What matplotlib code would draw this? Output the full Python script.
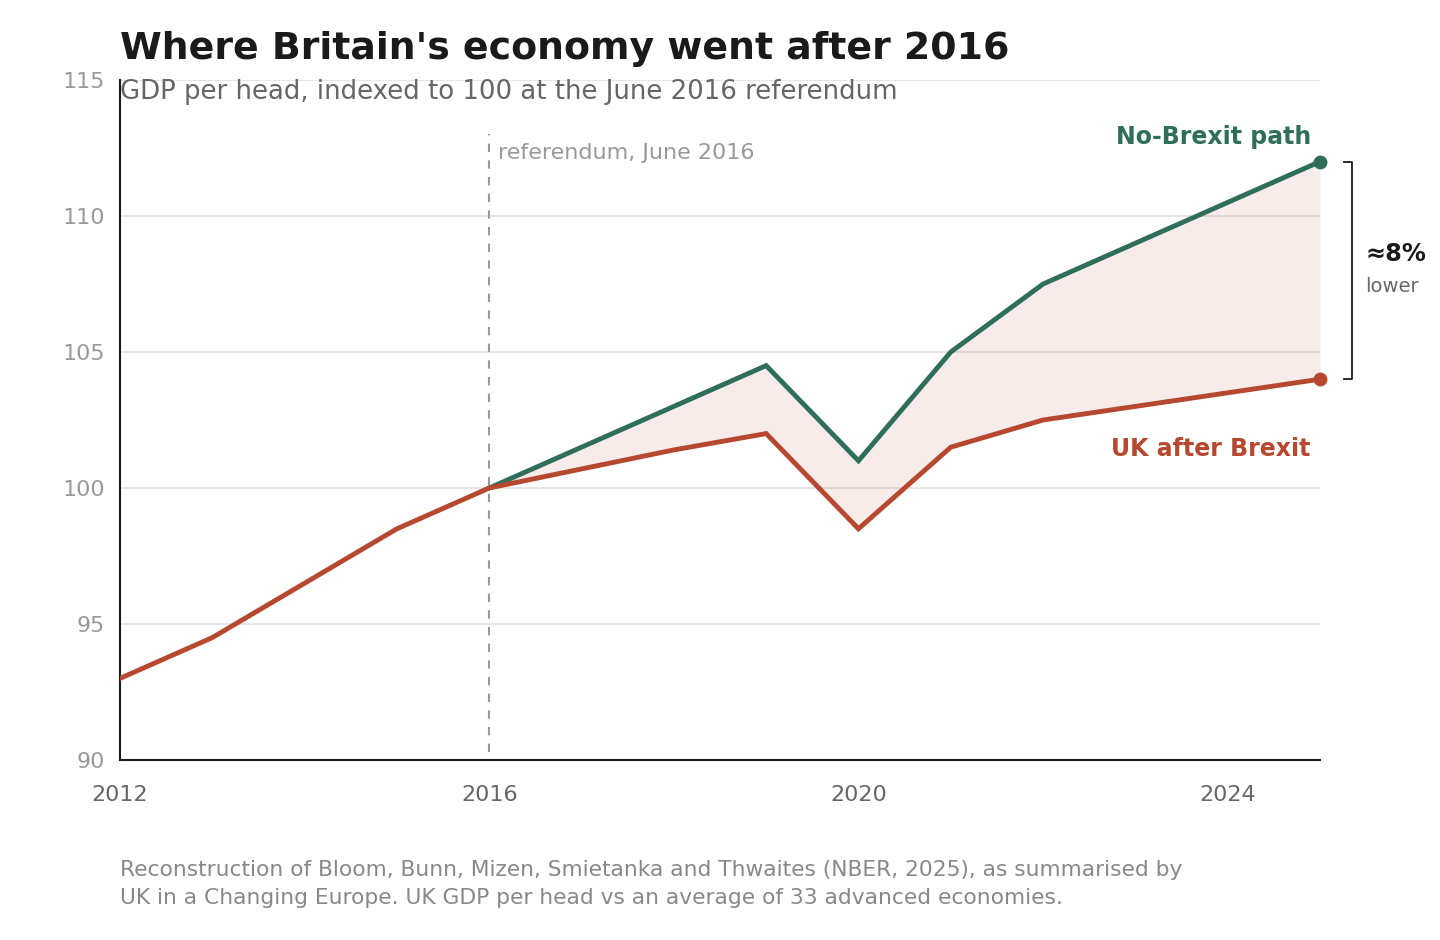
import matplotlib
matplotlib.use('Agg')
import matplotlib.pyplot as plt

plt.rcParams['font.family'] = ['DejaVu Sans']

# GDP per head, indexed to 100 at June 2016
years = [2012, 2013, 2014, 2015, 2016, 2017, 2018, 2019, 2020, 2021, 2022, 2023, 2024, 2025]
uk_actual = [93, 94.5, 96.5, 98.5, 100, 100.7, 101.4, 102, 98.5, 101.5, 102.5, 103, 103.5, 104]

cf_years = [2016, 2017, 2018, 2019, 2020, 2021, 2022, 2023, 2024, 2025]
no_brexit = [100, 101.5, 103, 104.5, 101, 105, 107.5, 109, 110.5, 112]

y_ticks = [90, 95, 100, 105, 110, 115]
x_ticks = [2012, 2016, 2020, 2024]

GREEN = '#2e6e5a'
RED = '#b5482e'

fig = plt.figure(figsize=(14.4, 9.4), dpi=100)
ax = fig.add_axes([120/1440, 1 - 760/940, 1200/1440, 680/940])

uk_after = uk_actual[years.index(2016):]
ax.fill_between(cf_years, uk_after, no_brexit, color=RED, alpha=0.1, lw=0)

ax.plot(cf_years, no_brexit, color=GREEN, lw=3.5, solid_joinstyle='miter', zorder=3)
ax.plot(years, uk_actual, color=RED, lw=3.5, solid_joinstyle='miter', zorder=4)
ax.plot(cf_years[-1], no_brexit[-1], 'o', color=GREEN, ms=9, clip_on=False, zorder=5)
ax.plot(years[-1], uk_actual[-1], 'o', color=RED, ms=9, clip_on=False, zorder=5)

ax.plot([2016, 2016], [90.3, 113], color='#999999', lw=1.5, ls=(0, (4, 4)), zorder=2)
ax.text(2016.1, 112.3, 'referendum, June 2016', color='#999999', fontsize=16,
        va='center', ha='left')

ax.set_xlim(2012, 2025)
ax.set_ylim(90, 115)
ax.set_yticks(y_ticks)
ax.set_xticks(x_ticks)
ax.grid(axis='y', color='#e0e0e0', lw=1.2)
ax.set_axisbelow(True)
ax.tick_params(length=0)
ax.tick_params(axis='y', colors='#999999', labelsize=16, pad=11)
ax.tick_params(axis='x', colors='#666666', labelsize=16, pad=18)
for s in ['top', 'right']:
    ax.spines[s].set_visible(False)
for s in ['left', 'bottom']:
    ax.spines[s].set_color('#1a1a1a')
    ax.spines[s].set_linewidth(1.5)

ax.text(2024.9, 112.9, 'No-Brexit path', color=GREEN, fontsize=17, fontweight='bold',
        ha='right', va='center')
ax.text(2024.9, 101.45, 'UK after Brexit', color=RED, fontsize=17, fontweight='bold',
        ha='right', va='center')

# bracket marking the gap
bx = 2025.35
ax.plot([bx - 0.09, bx, bx, bx - 0.09], [no_brexit[-1], no_brexit[-1], uk_actual[-1], uk_actual[-1]],
        color='#1a1a1a', lw=1.3, clip_on=False)
ax.text(2025.49, 108.6, '≈8%', color='#1a1a1a', fontsize=17.3, fontweight='bold',
        ha='left', va='center')
ax.text(2025.49, 107.4, 'lower', color='#666666', fontsize=14, ha='left', va='center')

fig.text(120/1440, 1 - 49/940, "Where Britain's economy went after 2016", fontsize=27.3,
         fontweight='bold', color='#1a1a1a', ha='left', va='center')
fig.text(120/1440, 1 - 92/940, 'GDP per head, indexed to 100 at the June 2016 referendum',
         fontsize=18.7, color='#666666', ha='left', va='center')
fig.text(120/1440, 1 - 884/940,
         'Reconstruction of Bloom, Bunn, Mizen, Smietanka and Thwaites (NBER, 2025), as summarised by\n'
         'UK in a Changing Europe. UK GDP per head vs an average of 33 advanced economies.',
         fontsize=15.7, color='#888888', ha='left', va='center', linespacing=1.45)

fig.savefig('out.png', dpi=100, facecolor='white')
